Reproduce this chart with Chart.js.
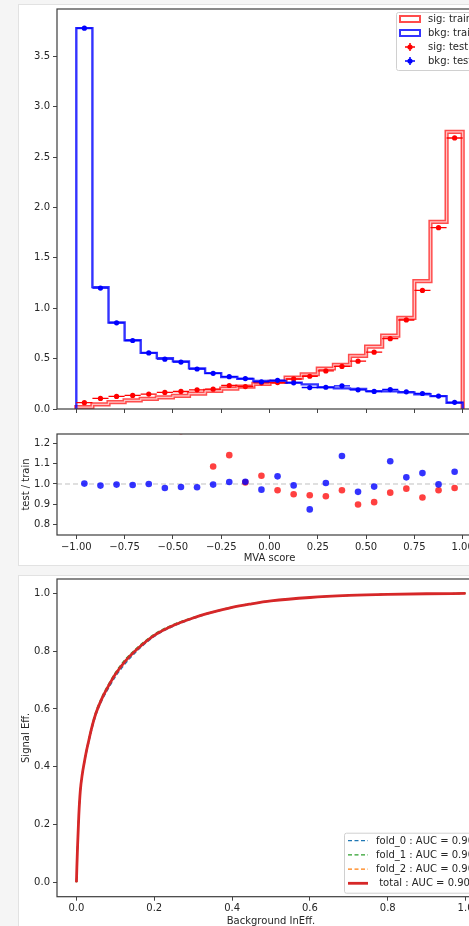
<!DOCTYPE html>
<html>
<head>
<meta charset="utf-8">
<script src="https://cdn.jsdelivr.net/npm/chart.js@4/dist/chart.umd.min.js"></script>
<style>
  html, body { margin: 0; padding: 0; width: 469px; height: 926px; overflow: hidden; background: #f5f5f5; }
  .card { position: absolute; left: 18px; width: 600px; background: #fff; border: 1px solid #e2e2e2; box-sizing: border-box; }
  canvas { position: absolute; left: 0; }
</style>
</head>
<body>
<div class="card" style="top:4px;height:562px"></div>
<div class="card" style="top:575px;height:420px"></div>
<canvas id="hist" width="520" height="420" style="top:0"></canvas>
<canvas id="ratio" width="520" height="150" style="top:420px"></canvas>
<canvas id="roc" width="520" height="370" style="top:570px"></canvas>
<script>
// histogram binning (24 bins on [-1, 1])
const binEdges = [-1, -0.9167, -0.8333, -0.75, -0.6667, -0.5833, -0.5, -0.4167, -0.3333, -0.25, -0.1667, -0.0833,
  0, 0.0833, 0.1667, 0.25, 0.3333, 0.4167, 0.5, 0.5833, 0.6667, 0.75, 0.8333, 0.9167, 1];
const binCenters = [-0.9583, -0.875, -0.7917, -0.7083, -0.625, -0.5417, -0.4583, -0.375, -0.2917, -0.2083, -0.125, -0.0417,
  0.0417, 0.125, 0.2083, 0.2917, 0.375, 0.4583, 0.5417, 0.625, 0.7083, 0.7917, 0.875, 0.9583];

const sigTrain = [0.018, 0.045, 0.068, 0.085, 0.1, 0.115, 0.13, 0.152, 0.18, 0.203, 0.222, 0.25,
  0.27, 0.312, 0.345, 0.402, 0.437, 0.528, 0.62, 0.728, 0.904, 1.27, 1.857, 2.75];
const bkgTrain = [3.78, 1.21, 0.858, 0.682, 0.557, 0.505, 0.473, 0.403, 0.356, 0.318, 0.299, 0.278,
  0.275, 0.262, 0.244, 0.215, 0.205, 0.198, 0.177, 0.175, 0.165, 0.147, 0.128, 0.062];
const sigTest = [0.063, 0.105, 0.125, 0.135, 0.148, 0.165, 0.174, 0.19, 0.197, 0.233, 0.223, 0.26,
  0.262, 0.298, 0.325, 0.378, 0.423, 0.475, 0.564, 0.698, 0.884, 1.177, 1.8, 2.69];
const bkgTest = [3.78, 1.2, 0.855, 0.68, 0.557, 0.495, 0.466, 0.397, 0.354, 0.321, 0.302, 0.27,
  0.285, 0.26, 0.213, 0.216, 0.23, 0.19, 0.174, 0.193, 0.17, 0.154, 0.128, 0.066];

// test / train ratio panel
const sigRatio = [3.5, 2.33, 1.84, 1.59, 1.48, 1.43, 1.262, 1.29, 1.087, 1.143, 1.008, 1.041,
  0.969, 0.949, 0.944, 0.939, 0.969, 0.898, 0.91, 0.957, 0.977, 0.933, 0.969, 0.98];
const bkgRatio = [1.002, 0.992, 0.997, 0.995, 1.0, 0.98, 0.985, 0.984, 0.997, 1.01, 1.011, 0.972,
  1.038, 0.993, 0.874, 1.005, 1.139, 0.961, 0.987, 1.113, 1.033, 1.054, 0.998, 1.061];

// ROC curves
const rocX = [0, 0.001, 0.003, 0.006, 0.01, 0.015, 0.02, 0.025, 0.03, 0.04, 0.05, 0.065, 0.08, 0.1, 0.125,
  0.15, 0.2, 0.25, 0.3, 0.35, 0.4, 0.45, 0.5, 0.6, 0.7, 0.8, 0.9, 1.0];
const fold0Y = [0, 0.05, 0.13, 0.23, 0.315, 0.37, 0.41, 0.445, 0.475, 0.532, 0.578, 0.628, 0.666, 0.711, 0.756,
  0.793, 0.851, 0.887, 0.913, 0.934, 0.951, 0.964, 0.974, 0.986, 0.993, 0.997, 0.999, 1.0];
const fold1Y = [0, 0.05, 0.13, 0.235, 0.322, 0.378, 0.418, 0.454, 0.486, 0.544, 0.591, 0.641, 0.68, 0.726, 0.771,
  0.805, 0.859, 0.893, 0.917, 0.936, 0.953, 0.965, 0.975, 0.986, 0.993, 0.997, 0.999, 1.0];
const fold2Y = [0, 0.05, 0.13, 0.23, 0.318, 0.374, 0.414, 0.45, 0.481, 0.539, 0.585, 0.635, 0.674, 0.72, 0.765,
  0.8, 0.855, 0.89, 0.915, 0.935, 0.952, 0.964, 0.974, 0.986, 0.993, 0.997, 0.999, 1.0];
const totalY = [0, 0.05, 0.13, 0.23, 0.318, 0.374, 0.414, 0.45, 0.481, 0.539, 0.585, 0.635, 0.674, 0.72, 0.765,
  0.8, 0.855, 0.89, 0.915, 0.935, 0.952, 0.964, 0.974, 0.986, 0.993, 0.997, 0.999, 1.0];
const rocLabels = ["fold_0 : AUC = 0.905", "fold_1 : AUC = 0.907", "fold_2 : AUC = 0.906", " total : AUC = 0.906"];

const histYTicks = [0, 0.5, 1, 1.5, 2, 2.5, 3, 3.5];
const mvaTicks = [-1, -0.75, -0.5, -0.25, 0, 0.25, 0.5, 0.75, 1];
const ratioTicks = [0.8, 0.9, 1.0, 1.1, 1.2];
const rocTicks = [0, 0.2, 0.4, 0.6, 0.8, 1.0];

Chart.defaults.font.family = "'DejaVu Sans', sans-serif";
Chart.defaults.font.size = 10;
Chart.defaults.color = "#262626";

const RED_LINE = "rgba(255, 0, 0, 0.7)";
const BLUE_LINE = "rgba(0, 0, 255, 0.8)";
const TEXT = "#262626";

const fmt1 = (v) => (v < 0 ? "\u2212" : "") + Math.abs(v).toFixed(1);
const fmt2 = (v) => (v < 0 ? "\u2212" : "") + Math.abs(v).toFixed(2);
const setTicks = (values) => (axis) => { axis.ticks = values.map((v) => ({ value: v })); };

function stepPoints(vals) {
  const pts = [{ x: binEdges[0], y: 0 }];
  vals.forEach((v, i) => pts.push({ x: binEdges[i], y: v }));
  pts.push({ x: binEdges[binEdges.length - 1], y: vals[vals.length - 1] });
  pts.push({ x: binEdges[binEdges.length - 1], y: 0 });
  return pts;
}
function xErrPoints(vals) {
  const pts = [];
  vals.forEach((v, i) => {
    pts.push({ x: binEdges[i], y: v }, { x: binEdges[i + 1], y: v }, { x: binEdges[i + 1], y: null });
  });
  return pts;
}
const dotPoints = (vals) => vals.map((v, i) => ({ x: binCenters[i], y: v }));

function axisX(min, max, ticks, fmt, height, extra) {
  return Object.assign({
    type: "linear", min, max,
    afterBuildTicks: setTicks(ticks),
    afterFit: (s) => { s.height = height; },
    grid: { drawOnChartArea: false, drawTicks: true, tickLength: 4, tickColor: "#444" },
    border: { display: false },
    ticks: { autoSkip: false, maxRotation: 0, padding: 2, color: TEXT, callback: fmt },
  }, extra || {});
}
function axisY(min, max, ticks, fmt, extra) {
  return Object.assign({
    type: "linear", min, max,
    afterBuildTicks: setTicks(ticks),
    afterFit: (s) => { s.width = 45; },
    grid: { drawOnChartArea: false, drawTicks: true, tickLength: 4, tickColor: "#444" },
    border: { display: false },
    ticks: { autoSkip: false, padding: 3, color: TEXT, callback: fmt },
  }, extra || {});
}

const frame = {
  id: "frame",
  afterDatasetsDraw(chart) {
    const { ctx, chartArea: a } = chart;
    ctx.save();
    ctx.strokeStyle = "#3c3c3c";
    ctx.lineWidth = 1.2;
    ctx.strokeRect(a.left, a.top, a.right - a.left, a.bottom - a.top);
    ctx.restore();
  },
};

function legendBox(ctx, x, y, w, h) {
  ctx.fillStyle = "rgba(255,255,255,0.85)";
  ctx.strokeStyle = "#d0d0d0";
  ctx.lineWidth = 1;
  ctx.beginPath();
  ctx.roundRect(x + 0.5, y + 0.5, w, h, 2);
  ctx.fill();
  ctx.stroke();
}

const histLegend = {
  id: "histLegend",
  afterDraw(chart) {
    const ctx = chart.ctx;
    ctx.save();
    legendBox(ctx, 396, 12, 130, 58);
    const rows = [
      { label: "sig: train", kind: "patch", color: RED_LINE },
      { label: "bkg: train", kind: "patch", color: BLUE_LINE },
      { label: "sig: test", kind: "marker", color: "#ff0000" },
      { label: "bkg: test", kind: "marker", color: "#0000ff" },
    ];
    rows.forEach((r, i) => {
      const cy = 19 + i * 14;
      if (r.kind === "patch") {
        ctx.strokeStyle = r.color;
        ctx.lineWidth = 2;
        ctx.strokeRect(400, cy - 3, 20, 6);
      } else {
        ctx.strokeStyle = r.color;
        ctx.lineWidth = 1.5;
        ctx.beginPath();
        ctx.moveTo(405, cy); ctx.lineTo(415, cy);
        ctx.moveTo(410, cy - 4); ctx.lineTo(410, cy + 4);
        ctx.stroke();
        ctx.fillStyle = r.color;
        ctx.beginPath();
        ctx.arc(410, cy, 2.6, 0, Math.PI * 2);
        ctx.fill();
      }
      ctx.fillStyle = TEXT;
      ctx.font = "10px 'DejaVu Sans'";
      ctx.textBaseline = "middle";
      ctx.fillText(r.label, 428, cy + 0.5);
    });
    ctx.restore();
  },
};

new Chart(document.getElementById("hist"), {
  type: "line",
  data: {
    datasets: [
      { data: dotPoints(bkgTest), showLine: false, pointRadius: 2.6, pointBackgroundColor: "#0000ff", pointBorderWidth: 0, order: 1 },
      { data: xErrPoints(bkgTest), borderColor: "#0000ff", borderWidth: 1.4, pointRadius: 0, spanGaps: false, order: 2 },
      { data: dotPoints(sigTest), showLine: false, pointRadius: 2.6, pointBackgroundColor: "#ff0000", pointBorderWidth: 0, order: 3 },
      { data: xErrPoints(sigTest), borderColor: "#ff0000", borderWidth: 1.4, pointRadius: 0, spanGaps: false, order: 4 },
      { data: stepPoints(bkgTrain), stepped: "before", borderColor: BLUE_LINE, borderWidth: 2.4, pointRadius: 0, order: 5 },
      { data: stepPoints(sigTrain), stepped: "before", borderColor: "rgba(255,235,235,0.75)", borderWidth: 1.2, pointRadius: 0, order: 6 },
      { data: stepPoints(sigTrain), stepped: "before", borderColor: RED_LINE, borderWidth: 4.2, pointRadius: 0, order: 7 },
    ],
  },
  options: {
    responsive: false, animation: false, events: [],
    layout: { padding: { top: 6, left: 12, right: 38, bottom: 3 } },
    plugins: { legend: { display: false }, tooltip: { enabled: false } },
    datasets: { line: { clip: 0 } },
    scales: {
      x: axisX(-1.1, 1.1, mvaTicks, fmt2, 8, {}),
      y: axisY(0, 3.97, histYTicks, fmt1),
    },
  },
  plugins: [frame, histLegend],
});
// hide the x labels of the top panel (shared axis)
Chart.getChart("hist").options.scales.x.ticks.display = false;
Chart.getChart("hist").update();

new Chart(document.getElementById("ratio"), {
  type: "line",
  data: {
    datasets: [
      { data: dotPoints(bkgRatio), showLine: false, pointRadius: 3.3, pointBackgroundColor: "rgba(0,0,255,0.8)", pointBorderWidth: 0, order: 1 },
      { data: dotPoints(sigRatio), showLine: false, pointRadius: 3.3, pointBackgroundColor: "rgba(255,0,0,0.75)", pointBorderWidth: 0, order: 2 },
      { data: [{ x: -1.1, y: 1 }, { x: 1.1, y: 1 }], borderColor: "#c0c0c0", borderWidth: 1, borderDash: [5, 3], pointRadius: 0, order: 3 },
    ],
  },
  options: {
    responsive: false, animation: false, events: [],
    layout: { padding: { top: 14, left: 12, right: 38, bottom: 0 } },
    plugins: { legend: { display: false }, tooltip: { enabled: false } },
    datasets: { line: { clip: 0 } },
    scales: {
      x: axisX(-1.1, 1.1, mvaTicks, fmt2, 35, {
        title: { display: true, text: "MVA score", color: TEXT, padding: { top: 0, bottom: 6 } },
      }),
      y: axisY(0.747, 1.248, ratioTicks, fmt1, {
        title: { display: true, text: "test / train", color: TEXT, padding: { top: 8.7, bottom: 0 } },
      }),
    },
  },
  plugins: [frame],
});

const rocColors = ["#1f77b4", "#2ca02c", "#ff7f0e", "#d62728"];
const rocSeries = [fold0Y, fold1Y, fold2Y, totalY];

const rocLegend = {
  id: "rocLegend",
  afterDraw(chart) {
    const ctx = chart.ctx;
    ctx.save();
    legendBox(ctx, 344, 262.7, 150, 60);
    rocLabels.forEach((label, i) => {
      const cy = 270.7 + i * 14.2;
      ctx.strokeStyle = rocColors[i];
      ctx.lineWidth = i === 3 ? 2.8 : 1.3;
      ctx.setLineDash(i === 3 ? [] : [4, 2.5]);
      ctx.beginPath();
      ctx.moveTo(348, cy); ctx.lineTo(368, cy);
      ctx.stroke();
      ctx.setLineDash([]);
      ctx.fillStyle = TEXT;
      ctx.font = "10px 'DejaVu Sans'";
      ctx.textBaseline = "middle";
      ctx.fillText(label, 376, cy + 0.5);
    });
    ctx.restore();
  },
};

new Chart(document.getElementById("roc"), {
  type: "line",
  data: {
    datasets: rocSeries.map((ys, i) => ({
      data: ys.map((y, k) => ({ x: rocX[k], y })),
      borderColor: rocColors[i],
      borderWidth: i === 3 ? 2.8 : 1.3,
      borderDash: i === 3 ? [] : [4, 2.5],
      cubicInterpolationMode: "monotone",
      pointRadius: 0,
      order: 4 - i,
    })),
  },
  options: {
    responsive: false, animation: false, events: [],
    layout: { padding: { top: 8.3, left: 12, right: 35, bottom: 0 } },
    plugins: { legend: { display: false }, tooltip: { enabled: false } },
    datasets: { line: { clip: 0 } },
    scales: {
      x: axisX(-0.05, 1.05, rocTicks, fmt1, 43.3, {
        title: { display: true, text: "Background InEff.", color: TEXT, padding: { top: 0, bottom: 12.3 } },
      }),
      y: axisY(-0.05, 1.05, rocTicks, fmt1, {
        title: { display: true, text: "Signal Eff.", color: TEXT, padding: { top: 8, bottom: 0 } },
      }),
    },
  },
  plugins: [frame, rocLegend],
});
</script>
</body>
</html>
